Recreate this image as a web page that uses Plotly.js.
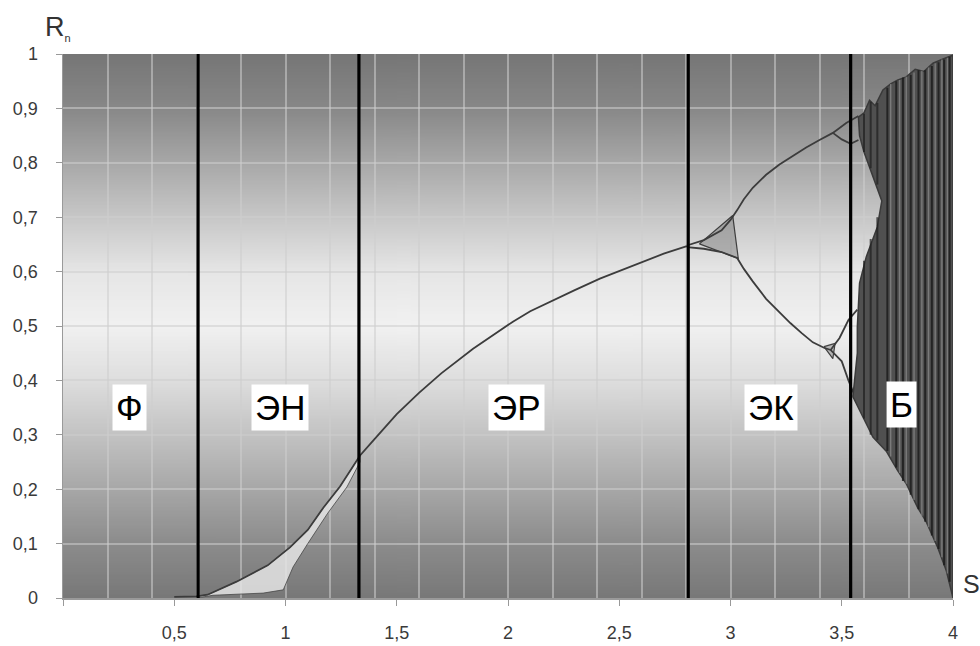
<!DOCTYPE html>
<html><head><meta charset="utf-8">
<script src="https://cdn.plot.ly/plotly-3.0.1.min.js"></script>
<style>html,body{margin:0;padding:0;background:#fff}#chart{width:980px;height:646px}</style>
</head><body><div id="chart"></div>
<script>
// ---- data ----
const xTickVals = [0, 0.5, 1, 1.5, 2, 2.5, 3, 3.5, 4];
const xTickText = ['', '0,5', '1', '1,5', '2', '2,5', '3', '3,5', '4'];
const yTickVals = [0, 0.1, 0.2, 0.3, 0.4, 0.5, 0.6, 0.7, 0.8, 0.9, 1];
const yTickText = ['0', '0,1', '0,2', '0,3', '0,4', '0,5', '0,6', '0,7', '0,8', '0,9', '1'];

// region boundaries and labels
const boundaryS = [0.607, 1.33, 2.81, 3.54];
const regionNames = ['Ф', 'ЭН', 'ЭР', 'ЭК', 'Б'];
const regionLabelS = [0.30, 0.975, 2.04, 3.18, 3.77];
const regionLabelR = [0.35, 0.35, 0.35, 0.35, 0.355];

// main single branch
const mainS = [0.50, 0.60, 0.65, 0.78, 0.92, 1.02, 1.10, 1.17, 1.245, 1.335, 1.40, 1.50, 1.60, 1.70, 1.843, 2.022, 2.10, 2.22, 2.30, 2.413, 2.50, 2.607, 2.70, 2.804];
const mainR = [0.002, 0.003, 0.006, 0.030, 0.060, 0.093, 0.125, 0.166, 0.205, 0.262, 0.292, 0.338, 0.377, 0.413, 0.458, 0.508, 0.527, 0.551, 0.566, 0.587, 0.601, 0.619, 0.633, 0.647];

// smeared band lower edge (ЭН region)
const bandLowS = [0.60, 0.674, 0.90, 0.99, 1.034, 1.10, 1.19, 1.276, 1.335];
const bandLowR = [0.0, 0.005, 0.009, 0.015, 0.057, 0.100, 0.156, 0.204, 0.250];

// period-2 branches
const upS = [2.804, 2.88, 2.96, 3.00, 3.03, 3.06, 3.10, 3.16, 3.22, 3.28, 3.34, 3.40, 3.46, 3.52, 3.575];
const upR = [0.648, 0.658, 0.676, 0.695, 0.713, 0.733, 0.754, 0.778, 0.797, 0.813, 0.828, 0.842, 0.855, 0.873, 0.886];
const loS = [2.804, 2.88, 2.96, 3.03, 3.06, 3.10, 3.16, 3.22, 3.27, 3.32, 3.37, 3.42, 3.45, 3.50, 3.53, 3.56];
const loR = [0.645, 0.642, 0.636, 0.625, 0.605, 0.582, 0.550, 0.525, 0.505, 0.487, 0.470, 0.460, 0.456, 0.435, 0.400, 0.370];
// period-4 sub-branches
const up2S = [3.46, 3.50, 3.54, 3.575];
const up2R = [0.855, 0.843, 0.835, 0.842];
const lo2S = [3.45, 3.49, 3.53, 3.57];
const lo2R = [0.456, 0.478, 0.511, 0.530];
// dense spots at bifurcation points
const knot1S = [2.86, 3.01, 3.035, 2.86];
const knot1R = [0.651, 0.703, 0.624, 0.651];
const knot2S = [3.42, 3.47, 3.46, 3.42];
const knot2R = [0.462, 0.468, 0.440, 0.462];

// chaotic region envelope
const chaosS = [3.55, 3.57, 3.57, 3.58, 3.61, 3.66, 3.68, 3.64, 3.60, 3.58, 3.575, 3.60, 3.625, 3.65, 3.685, 3.72, 3.75, 3.79, 3.83, 3.87, 3.91, 3.95, 4.0, 4.0, 3.97, 3.93, 3.88, 3.84, 3.79, 3.75, 3.70, 3.64, 3.60, 3.55];
const chaosR = [0.37, 0.45, 0.498, 0.579, 0.627, 0.682, 0.73, 0.774, 0.82, 0.85, 0.884, 0.892, 0.915, 0.905, 0.934, 0.945, 0.952, 0.958, 0.972, 0.968, 0.983, 0.990, 0.998, 0.0, 0.05, 0.094, 0.14, 0.167, 0.21, 0.235, 0.27, 0.296, 0.33, 0.37];
// streaks inside chaotic region
const darkStreakS = [3.705, 3.745, 3.775, 3.81, 3.845, 3.875, 3.905, 3.935, 3.96, 3.985];
const darkStreakLo = [0.27, 0.24, 0.215, 0.19, 0.163, 0.14, 0.115, 0.09, 0.06, 0.03];
const darkStreakHi = [0.938, 0.95, 0.957, 0.962, 0.970, 0.97, 0.978, 0.985, 0.99, 0.995];
const lightStreakS = [3.72, 3.76, 3.79, 3.825, 3.86, 3.89, 3.92, 3.95, 3.975];
const lightStreakLo = [0.26, 0.23, 0.21, 0.18, 0.15, 0.13, 0.105, 0.075, 0.045];
const lightStreakHi = [0.945, 0.952, 0.958, 0.966, 0.969, 0.975, 0.983, 0.99, 0.993];
// streaks in the left lobe of the chaotic region
const lobeStreakS = [3.60, 3.63, 3.66];
const lobeStreakLo = [0.33, 0.30, 0.29];
const lobeStreakHi = [0.62, 0.66, 0.70];
const lobeTopStreakLo = [0.82, 0.79, 0.76];
const lobeTopStreakHi = [0.89, 0.912, 0.91];

// ---- build ----
function segs(xs, lo, hi) {
  const X = [], Y = [];
  xs.forEach((x, i) => { X.push(x, x, null); Y.push(lo[i], hi[i], null); });
  return {X, Y};
}

const cv = document.createElement('canvas');
cv.width = 4; cv.height = 300;
const ctx = cv.getContext('2d');
const g = ctx.createLinearGradient(0, 0, 0, 300);
g.addColorStop(0.00, '#767676');
g.addColorStop(0.10, '#888888');
g.addColorStop(0.25, '#b8b8b8');
g.addColorStop(0.40, '#e6e6e6');
g.addColorStop(0.50, '#f1f1f1');
g.addColorStop(0.60, '#dedede');
g.addColorStop(0.75, '#b5b5b5');
g.addColorStop(0.90, '#8c8c8c');
g.addColorStop(1.00, '#787878');
ctx.fillStyle = g; ctx.fillRect(0, 0, 4, 300);
const bgURL = cv.toDataURL('image/png');

const traces = [];
const noHover = {hoverinfo: 'skip', showlegend: false};
// band
traces.push(Object.assign({x: mainS.slice(1, 10).concat(bandLowS.slice().reverse()),
  y: mainR.slice(1, 10).concat(bandLowR.slice().reverse()),
  mode: 'lines', fill: 'toself', fillcolor: 'rgba(228,228,228,0.85)',
  line: {color: 'rgba(70,70,70,0.8)', width: 1}}, noHover));
// knots
[[knot1S, knot1R], [knot2S, knot2R]].forEach(k => traces.push(Object.assign({x: k[0], y: k[1], mode: 'lines', fill: 'toself',
  fillcolor: 'rgba(90,90,90,0.35)', line: {color: 'rgba(40,40,40,0.85)', width: 1.2}}, noHover)));
// branches
[[mainS, mainR], [upS, upR], [loS, loR], [up2S, up2R], [lo2S, lo2R]].forEach(b => traces.push(Object.assign({x: b[0], y: b[1],
  mode: 'lines', line: {color: '#3c3c3c', width: 1.8}}, noHover)));
// chaos
traces.push(Object.assign({x: chaosS, y: chaosR, mode: 'lines', fill: 'toself', fillcolor: '#505050',
  line: {color: '#3a3a3a', width: 1.5}}, noHover));
const ls = segs(lightStreakS, lightStreakLo, lightStreakHi);
traces.push(Object.assign({x: ls.X, y: ls.Y, mode: 'lines', line: {color: 'rgba(140,140,140,0.7)', width: 1.4}}, noHover));
const ds = segs(darkStreakS, darkStreakLo, darkStreakHi);
traces.push(Object.assign({x: ds.X, y: ds.Y, mode: 'lines', line: {color: 'rgba(25,25,25,0.8)', width: 2}}, noHover));
const lb = segs(lobeStreakS.concat(lobeStreakS), lobeStreakLo.concat(lobeTopStreakLo), lobeStreakHi.concat(lobeTopStreakHi));
traces.push(Object.assign({x: lb.X, y: lb.Y, mode: 'lines', line: {color: 'rgba(30,30,30,0.7)', width: 2}}, noHover));
// boundaries
const bd = segs(boundaryS, boundaryS.map(() => 0), boundaryS.map(() => 1));
traces.push(Object.assign({x: bd.X, y: bd.Y, xaxis: 'x2', mode: 'lines', line: {color: '#000', width: 3.2}}, noHover));

const annotations = regionNames.map((t, i) => ({
  x: regionLabelS[i], y: regionLabelR[i], xref: 'x', yref: 'y', text: t, showarrow: false,
  font: {family: 'Liberation Sans, Arial, sans-serif', size: 35, color: '#000'},
  bgcolor: '#ffffff', borderpad: 3
}));
annotations.push({xref: 'paper', yref: 'paper', x: -0.023, y: 1.08, text: 'R<sub><span style="font-size:11px">n</span></sub>', showarrow: false,
  font: {family: 'Liberation Sans, Arial, sans-serif', size: 27, color: '#333'}});
annotations.push({xref: 'paper', yref: 'paper', x: 1.033, y: -0.004, text: 'S', showarrow: false,
  font: {family: 'Liberation Sans, Arial, sans-serif', size: 25, color: '#333'}});

const tickFont = {family: 'Liberation Sans, Arial, sans-serif', size: 18, color: '#3a3a3a'};
const layout = {
  width: 980, height: 646,
  margin: {l: 63, r: 27, t: 54, b: 48},
  paper_bgcolor: '#ffffff', plot_bgcolor: 'rgba(0,0,0,0)',
  showlegend: false,
  images: [{source: bgURL, xref: 'paper', yref: 'paper', x: 0, y: 1, sizex: 1, sizey: 1,
    sizing: 'stretch', xanchor: 'left', yanchor: 'top', layer: 'below'}],
  xaxis: {range: [0, 4], tickmode: 'array', tickvals: xTickVals, ticktext: xTickText, ticks: 'outside',
    ticklen: 6, tickcolor: '#999', showgrid: false, zeroline: false, showline: true, linecolor: '#9a9a9a',
    linewidth: 1.5, tickfont: tickFont, ticklabelstandoff: 12, fixedrange: true},
  xaxis2: {range: [0, 4], overlaying: 'x', anchor: 'y', dtick: 0.2, tick0: 0, showgrid: true,
    gridcolor: 'rgba(205,205,205,0.55)', gridwidth: 2, showticklabels: false, ticks: '', zeroline: false, showline: false},
  yaxis: {range: [0, 1], tickmode: 'array', tickvals: yTickVals, ticktext: yTickText, ticks: 'outside',
    ticklen: 6, tickcolor: '#999', showgrid: true, gridcolor: 'rgba(205,205,205,0.55)', gridwidth: 2,
    zeroline: false, showline: true, linecolor: '#9a9a9a', linewidth: 1.5, tickfont: tickFont, ticklabelstandoff: 14, fixedrange: true},
  annotations: annotations
};
Plotly.newPlot('chart', traces, layout, {staticPlot: true, displayModeBar: false});
</script></body></html>
